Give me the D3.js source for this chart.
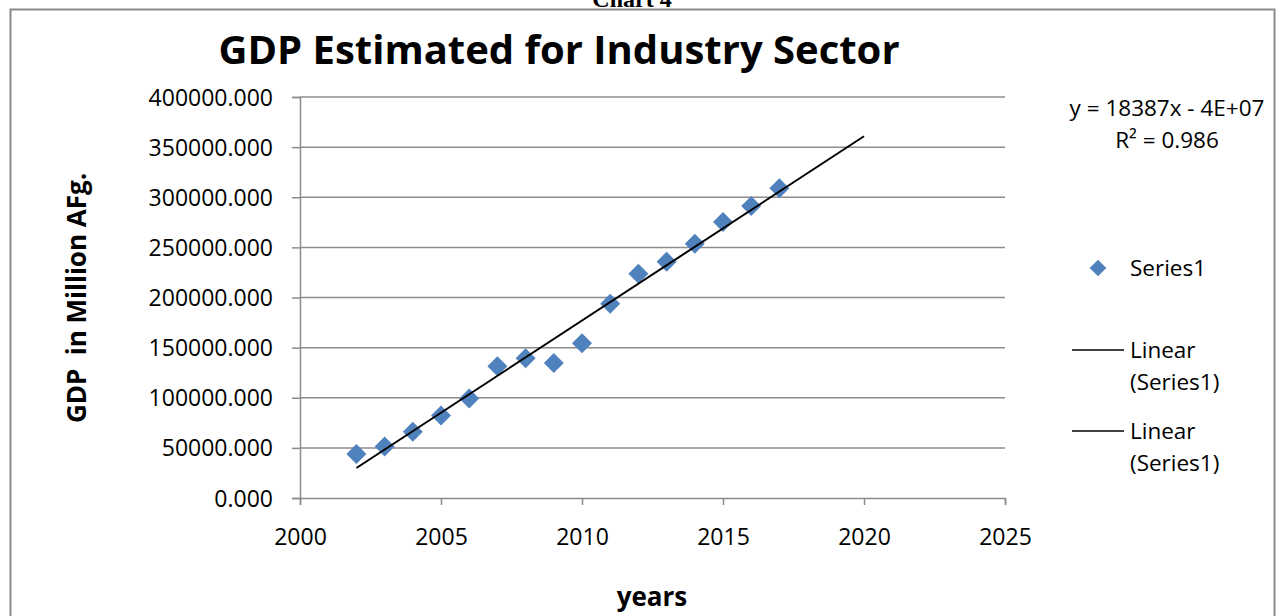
<!DOCTYPE html>
<html>
<head>
<meta charset="utf-8">
<script src="https://cdn.jsdelivr.net/npm/d3@7"></script>
<style>
  html, body { margin: 0; padding: 0; background: #fff; }
  svg { display: block; }
  text { font-family: "Open Sans", "Noto Sans", sans-serif; fill: #000; }
</style>
</head>
<body>
<svg id="chart" width="1276" height="616"></svg>
<script>
// Industry sector GDP, million Afghani
const years = [2002, 2003, 2004, 2005, 2006, 2007, 2008, 2009, 2010, 2011, 2012, 2013, 2014, 2015, 2016, 2017];
const gdp = [44000, 51300, 66000, 82300, 99300, 131300, 139300, 134700, 154300, 193700, 223700, 235700, 253700, 275300, 291300, 309000];

// Axis ticks
const xTicks = [2000, 2005, 2010, 2015, 2020, 2025];
const yTicks = [0, 50000, 100000, 150000, 200000, 250000, 300000, 350000, 400000];

// Linear trendline: slope as reported, forecast forward to 2020
const trendSlope = 18387;
const trendEndYear = 2020;
const trendEquation = "y = 18387x - 4E+07";
const trendR2 = "R² = 0.986";

const legendItems = [
  { kind: "marker", lines: ["Series1"] },
  { kind: "line", lines: ["Linear", "(Series1)"] },
  { kind: "line", lines: ["Linear", "(Series1)"] }
];

const svg = d3.select("#chart");
const blue = "#4f81bd";
const gridColor = "#8c8c8c";

// chart frame with the caption just above it
svg.append("text")
  .attr("x", 632).attr("y", 7)
  .attr("text-anchor", "middle")
  .style("font-family", "'Liberation Serif', serif")
  .style("font-weight", "bold")
  .style("font-size", "24px")
  .text("Chart 4");
svg.append("rect")
  .attr("x", 10.5).attr("y", 9.5)
  .attr("width", 1264).attr("height", 640)
  .attr("fill", "none")
  .attr("stroke", "#8a8a8a")
  .attr("stroke-width", 2);

const plot = { left: 300, right: 1005, top: 97, bottom: 498 };

const x = d3.scaleLinear().domain([2000, 2025]).range([plot.left, plot.right]);
const y = d3.scaleLinear().domain([0, 400000]).range([plot.bottom, plot.top]);

// horizontal gridlines
svg.append("g")
  .selectAll("line")
  .data(yTicks.filter(v => v > 0))
  .join("line")
  .attr("x1", plot.left).attr("x2", plot.right)
  .attr("y1", d => y(d)).attr("y2", d => y(d))
  .attr("stroke", gridColor)
  .attr("stroke-width", 1.5);

// y axis
const yAxis = svg.append("g")
  .attr("transform", `translate(${plot.left},0)`)
  .call(d3.axisLeft(y).tickValues(yTicks).tickSize(8).tickPadding(19)
    .tickFormat(d => d3.format(".3f")(d)));
yAxis.select(".domain").attr("stroke", gridColor).attr("stroke-width", 1.5);
yAxis.selectAll(".tick line").attr("stroke", gridColor).attr("stroke-width", 1.5);
yAxis.selectAll(".tick text")
  .style("font-size", "23px")
  .attr("dy", "0.35em");

// x axis
const xAxis = svg.append("g")
  .attr("transform", `translate(0,${plot.bottom})`)
  .call(d3.axisBottom(x).tickValues(xTicks).tickSize(7).tickPadding(24)
    .tickFormat(d3.format("d")));
xAxis.select(".domain").attr("stroke", gridColor).attr("stroke-width", 1.5);
xAxis.selectAll(".tick line").attr("stroke", gridColor).attr("stroke-width", 1.5);
xAxis.selectAll(".tick text").style("font-size", "23px");

// least-squares intercept for the reported slope
const xMean = d3.mean(years);
const yMean = d3.mean(gdp);
const trendIntercept = yMean - trendSlope * xMean;
const trendPts = [years[0], trendEndYear].map(t => [t, trendSlope * t + trendIntercept]);

// data markers
const diamond = d3.symbol().type(d3.symbolSquare).size(200);
svg.append("g")
  .selectAll("path")
  .data(years.map((yr, i) => [yr, gdp[i]]))
  .join("path")
  .attr("d", diamond)
  .attr("transform", d => `translate(${x(d[0])},${y(d[1])}) rotate(45)`)
  .attr("fill", blue);

// trendline
svg.append("path")
  .datum(trendPts)
  .attr("d", d3.line().x(d => x(d[0])).y(d => y(d[1])))
  .attr("fill", "none")
  .attr("stroke", "#000")
  .attr("stroke-width", 2);

// titles
svg.append("text")
  .attr("x", 559).attr("y", 64)
  .attr("text-anchor", "middle")
  .style("font-weight", "bold")
  .style("font-size", "40px")
  .text("GDP Estimated for Industry Sector");

svg.append("text")
  .attr("transform", "translate(86,298) rotate(-90)")
  .attr("text-anchor", "middle")
  .style("font-weight", "bold")
  .style("font-size", "26px")
  .style("white-space", "pre")
  .text("GDP  in Million AFg.");

svg.append("text")
  .attr("x", 652).attr("y", 606)
  .attr("text-anchor", "middle")
  .style("font-weight", "bold")
  .style("font-size", "26px")
  .text("years");

// trendline label
svg.append("text")
  .attr("x", 1167).attr("y", 116)
  .attr("text-anchor", "middle")
  .style("font-size", "22.5px")
  .text(trendEquation);
svg.append("text")
  .attr("x", 1167).attr("y", 148)
  .attr("text-anchor", "middle")
  .style("font-size", "22.5px")
  .text(trendR2);

// legend
const legendY = [268, 350, 431];
const legend = svg.append("g");
legendItems.forEach((item, i) => {
  const g = legend.append("g").attr("transform", `translate(0,${legendY[i]})`);
  if (item.kind === "marker") {
    g.append("path")
      .attr("d", d3.symbol().type(d3.symbolSquare).size(140))
      .attr("transform", "translate(1098,0) rotate(45)")
      .attr("fill", blue);
  } else {
    g.append("line")
      .attr("x1", 1072).attr("x2", 1124)
      .attr("y1", 0).attr("y2", 0)
      .attr("stroke", "#000")
      .attr("stroke-width", 1.5);
  }
  item.lines.forEach((t, j) => {
    g.append("text")
      .attr("x", 1130).attr("y", j * 32)
      .attr("dy", "0.35em")
      .style("font-size", "22.5px")
      .text(t);
  });
});
</script>
</body>
</html>
